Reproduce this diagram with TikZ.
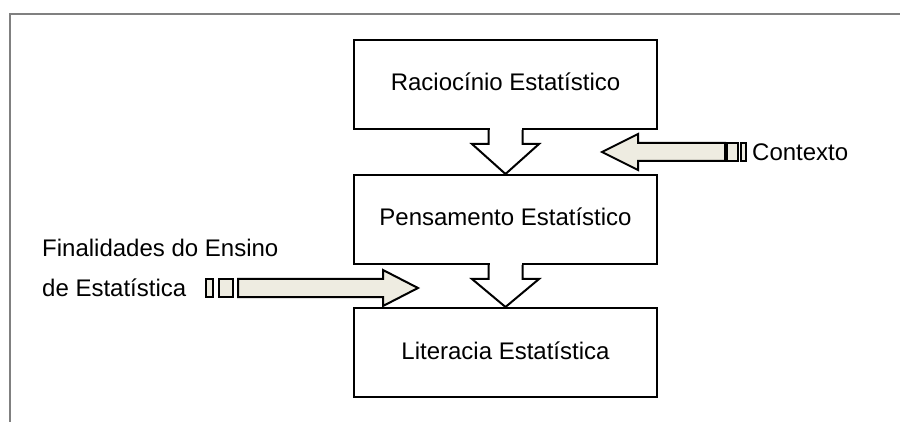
\documentclass[tikz,border=0pt]{standalone}
\usepackage{fontspec}
\setmainfont{Liberation Sans}
\usetikzlibrary{calc}
\definecolor{frameg}{HTML}{808080}
\definecolor{beige}{HTML}{EEECE1}
\begin{document}
\begin{tikzpicture}[x=1pt,y=-1pt,
  every node/.style={font=\fontsize{24}{29}\selectfont, inner sep=0pt},
  box/.style={draw=black, line width=2pt, fill=white, minimum width=303pt, minimum height=89pt, text height=17pt, text depth=4pt},
  lbl/.style={anchor=base west},
  blk/.style={draw=black, line width=2pt, line join=miter},
  barrow/.style={draw=black, line width=2pt, fill=beige, line join=miter}]
\useasboundingbox (0,0) rectangle (900,422);
% open frame
\draw[frameg, line width=1.6pt] (10,422) -- (10,14) -- (900,14);
% boxes
\node[box] (r) at (505.5,84.5) {Raciocínio Estatístico};
\node[box] (p) at (505.5,219.5) {Pensamento Estatístico};
\node[box] (l) at (505.5,352.5) {Literacia Estatística};
% down arrows merged into the boxes
\foreach \a/\b in {r/p, p/l}{
  \fill[white] ($(\a.south)+(-16,-3)$) rectangle ($(\a.south)+(16,14)$);
  \draw[blk] ($(\a.south)+(-17,0)$) -- ($(\a.south)+(-17,14)$) -- ($(\a.south)+(-33.5,14)$)
    -- (\b.north) -- ($(\a.south)+(33.5,14)$) -- ($(\a.south)+(17,14)$) -- ($(\a.south)+(17,0)$);
}
% labels
\node[lbl] (ctx) at (752,161) {Contexto};
\node[lbl] (fin1) at (42,257) {Finalidades do Ensino};
\node[lbl] (fin2) at (42,297) {de Estatística};
% Contexto arrow (pointing left)
\coordinate (ctip) at (602,152);
\draw[barrow] (ctip) -- (638,134) -- (638,143) -- (725,143) -- (725,161) -- (638,161) -- (638,170) -- cycle;
\draw[barrow] (727,143) rectangle (738,161);
\draw[barrow] (741,143) rectangle (746,161);
% Finalidades arrow (pointing right)
\coordinate (ftip) at (418,288);
\draw[barrow] (ftip) -- (383,270) -- (383,279) -- (238,279) -- (238,297) -- (383,297) -- (383,306) -- cycle;
\draw[barrow] (219,279) rectangle (233,297);
\draw[barrow] (206,279) rectangle (213,297);
\end{tikzpicture}
\end{document}
